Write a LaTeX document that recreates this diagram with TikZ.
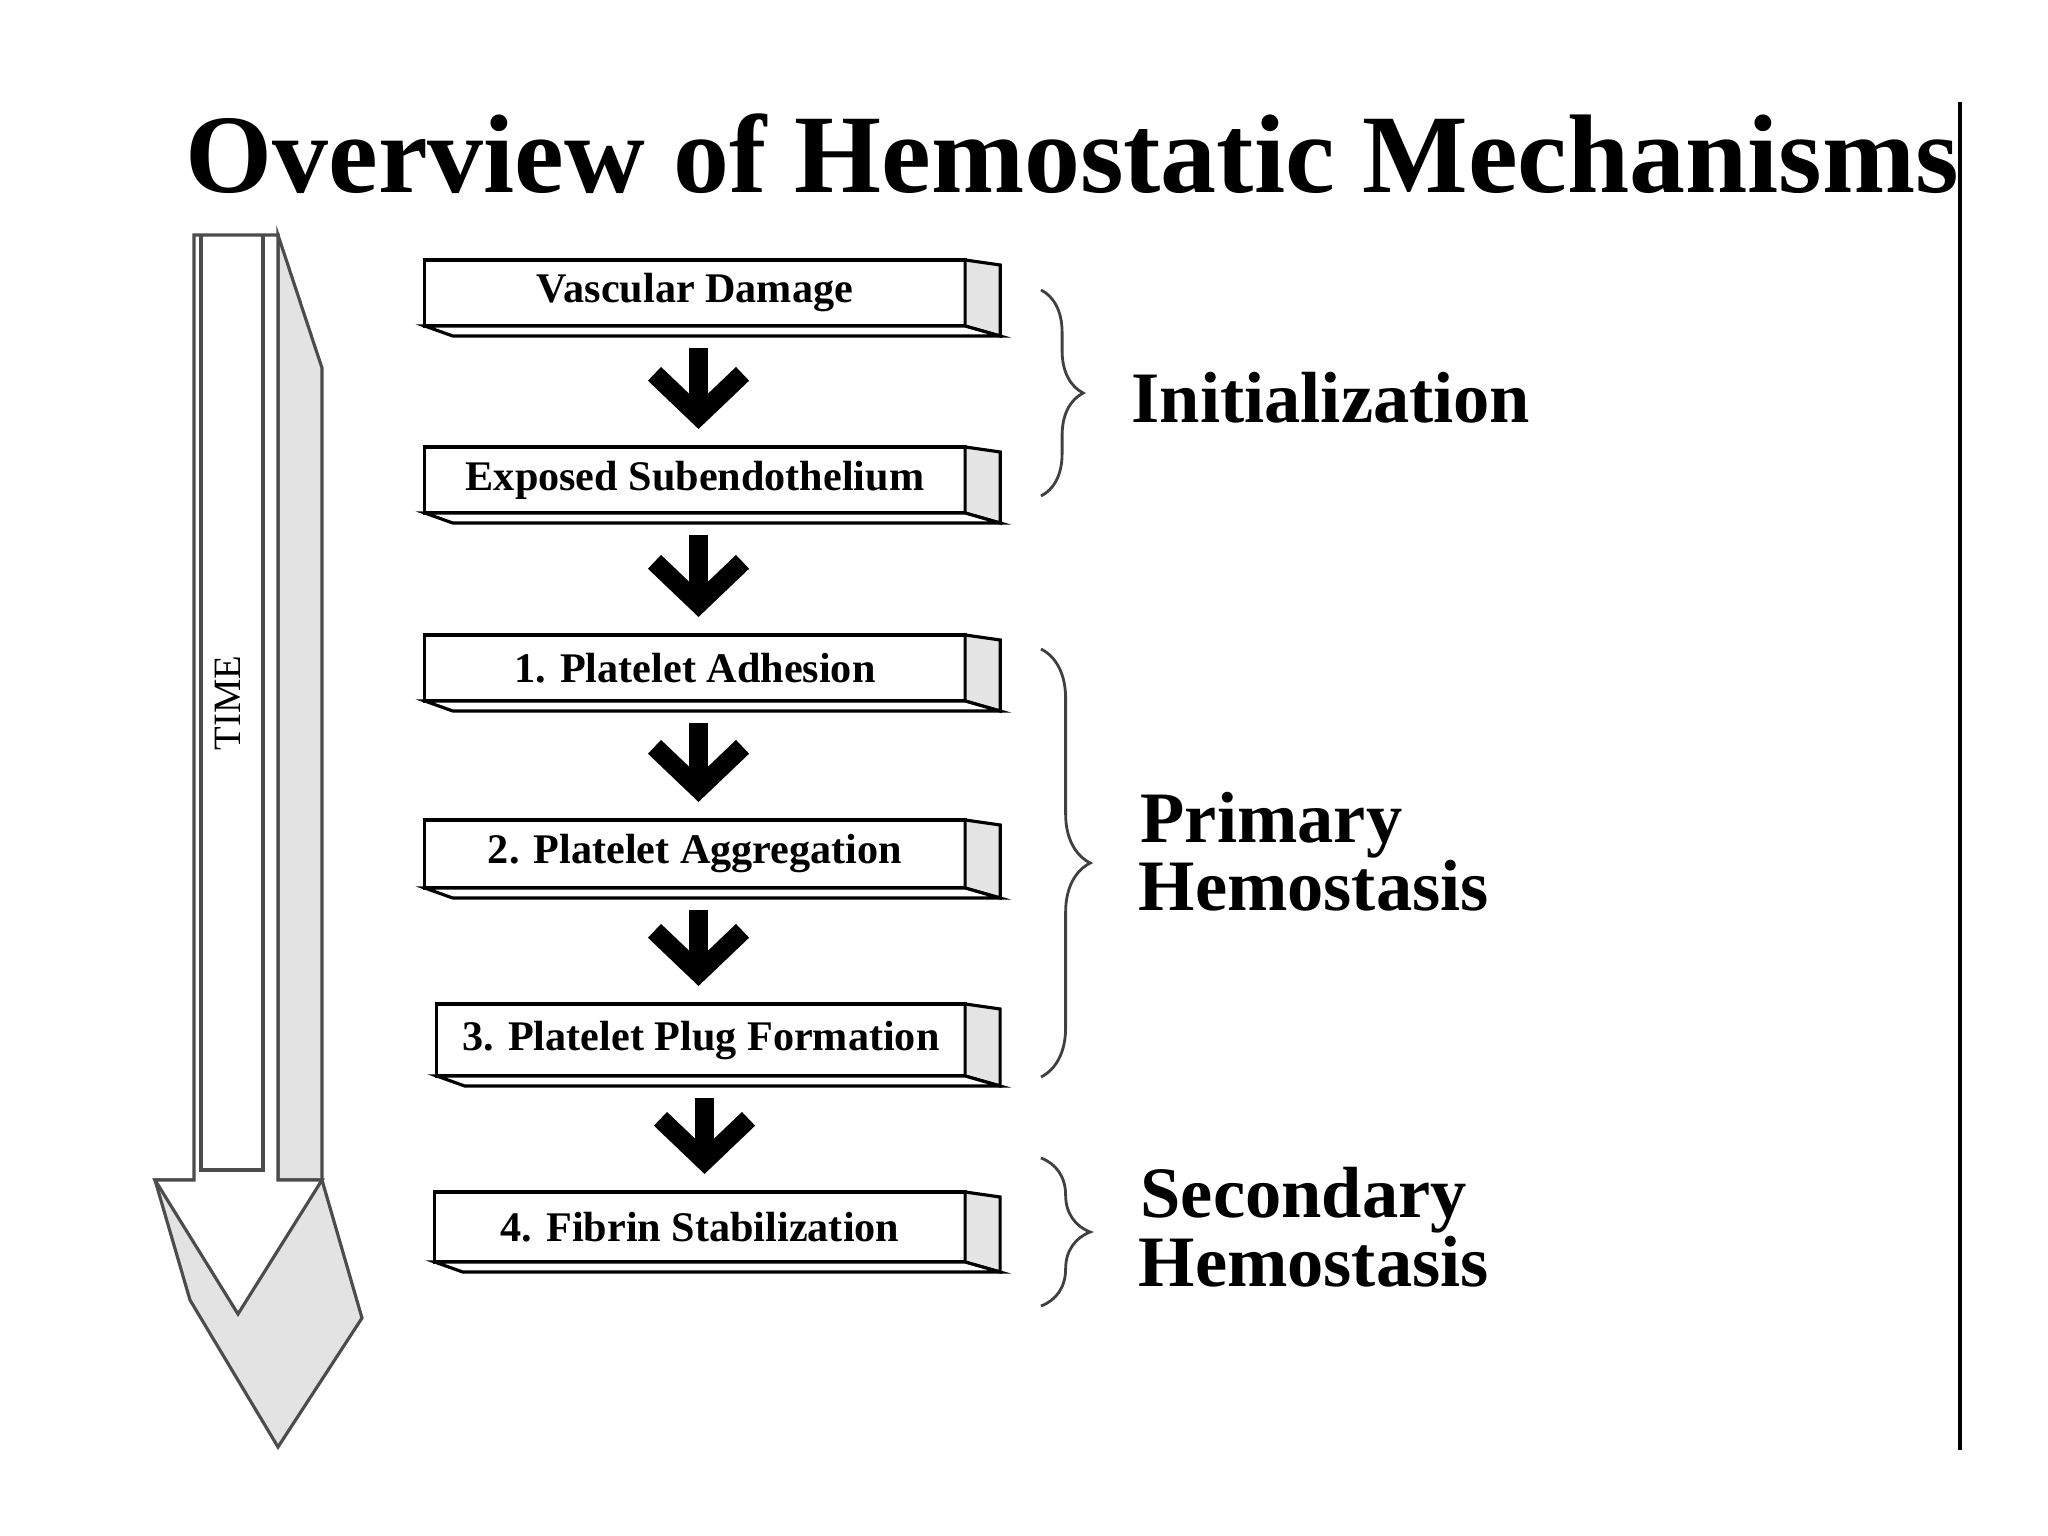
\documentclass[tikz,border=0pt]{standalone}
\usepackage{fontspec}
\setmainfont{Liberation Serif}
\usetikzlibrary{arrows.meta, decorations.pathreplacing}

\tikzset{
  stepbox/.style={draw=black, line width=0.9pt, fill=white, minimum width=5.4cm,
    minimum height=0.66cm, inner sep=0pt, outer sep=0pt,
    font=\bfseries\fontsize{12}{14}\selectfont},
  boxface/.style={draw=black, line width=0.9pt},
  flowarrow/.style={line width=0.19cm, -{Straight Barb[length=0.42cm, width=0.88cm]},
    shorten <=0.22cm, shorten >=0.18cm},
  phase/.style={font=\bfseries\fontsize{20.6}{24}\selectfont, anchor=base west, inner sep=0pt},
  phasebrace/.style={decorate, decoration={brace, amplitude=#1}, draw=black!75, line width=0.8pt},
  timeline/.style={draw=black!70, line width=0.9pt}
}

\begin{document}
\begin{tikzpicture}[x=0.01cm, y=-0.01cm, line join=miter]
    \useasboundingbox (0,0) rectangle (2048,1536);

    % 1. title and right rule
    \node[font=\bfseries\fontsize{31.8}{36}\selectfont, anchor=base west, inner sep=0pt]
        (title) at (185,192) {Overview of Hemostatic Mechanisms};
    \draw[line width=1.2pt] (1960,102) -- (1960,1450);

    % 2. the TIME arrow (front face white, depth grey)
    \filldraw[timeline, fill=gray!22] (155,1180) -- (190,1300) -- (278,1447) -- (362,1318) -- (322,1180) -- cycle;
    \filldraw[timeline, fill=gray!22] (278,235) -- (322,368) -- (322,1180) -- (278,1180) -- cycle;
    \filldraw[timeline, fill=white] (194,235) -- (278,235) -- (278,1180) -- (322,1180)
        -- (238,1314) -- (155,1180) -- (194,1180) -- cycle;
    \draw[timeline] (201,235) -- (201,1170) -- (263,1170) -- (263,235);
    \node[rotate=90, font=\fontsize{11}{12}\selectfont] (time) at (228,703) {TIME};

    % 3. the steps
    \node[stepbox] (vd) at (695,293) {Vascular Damage};
    \node[stepbox] (es) at (695,480) {Exposed Subendothelium};
    \node[stepbox] (pa) at (695,668) {1. Platelet Adhesion};
    \node[stepbox, minimum height=0.68cm] (pg) at (695,854) {2. Platelet Aggregation};
    \node[stepbox, minimum width=5.28cm, minimum height=0.72cm] (pp) at (701,1040) {3. Platelet Plug Formation};
    \node[stepbox, minimum width=5.3cm, minimum height=0.7cm] (fs) at (700,1227) {4. Fibrin Stabilization};

    % 3D side and bottom of every box
    \foreach \bx in {vd,es,pa,pg,pp,fs}{
        \filldraw[boxface, fill=gray!20] (\bx.north east) -- ([shift={(35,5)}]\bx.north east)
            -- ([shift={(35,10)}]\bx.south east) -- (\bx.south east) -- cycle;
        \filldraw[boxface, fill=white] (\bx.south west) -- ([shift={(28,10)}]\bx.south west)
            -- ([shift={(35,10)}]\bx.south east) -- (\bx.south east) -- cycle;
    }

    % 4. arrows between the steps
    \foreach \fa/\fb in {vd/es, es/pa, pa/pg, pg/pp, pp/fs}
        \draw[flowarrow] ([xshift=1pt]\fa.south) -- ([xshift=1pt]\fa.south |- \fb.north);

    % 5. braces and phase names
    \draw[phasebrace=12pt] (1041,290) -- (1041,496);
    \draw[phasebrace=14pt] (1041,649) -- (1041,1077);
    \draw[phasebrace=14pt] (1041,1158) -- (1041,1306);

    \node[phase] (init) at (1131,422) {Initialization};
    \node[phase] (prim) at (1140,842) {Primary};
    \node[phase] (primh) at (1138,910) {Hemostasis};
    \node[phase] (sec) at (1140,1217) {Secondary};
    \node[phase] (sech) at (1138,1286) {Hemostasis};
\end{tikzpicture}
\end{document}
